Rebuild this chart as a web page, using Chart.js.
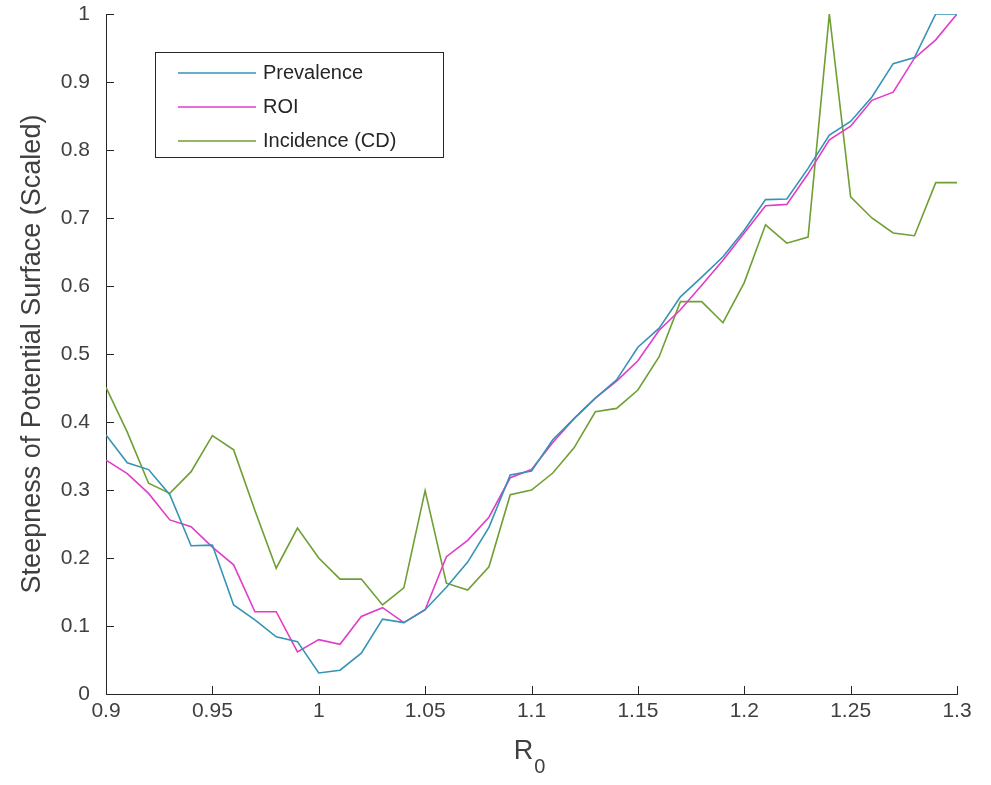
<!DOCTYPE html>
<html>
<head>
<meta charset="utf-8">
<script src="https://cdn.jsdelivr.net/npm/chart.js@4.4.1/dist/chart.umd.min.js"></script>
<style>
    html, body { margin: 0; padding: 0; background: #fff; }
    #wrap { width: 991px; height: 785px; position: relative; }
</style>
</head>
<body>
<div id="wrap"><canvas id="steepChart" width="991" height="785"></canvas></div>
<script>
const r0Values = [0.9, 0.91, 0.92, 0.93, 0.94, 0.95, 0.96, 0.97, 0.98, 0.99, 1.0,
    1.01, 1.02, 1.03, 1.04, 1.05, 1.06, 1.07, 1.08, 1.09, 1.1,
    1.11, 1.12, 1.13, 1.14, 1.15, 1.16, 1.17, 1.18, 1.19, 1.2,
    1.21, 1.22, 1.23, 1.24, 1.25, 1.26, 1.27, 1.28, 1.29, 1.3];

const prevalence = [0.381, 0.34, 0.33, 0.293, 0.218, 0.219, 0.131, 0.109, 0.084, 0.077, 0.031,
    0.035, 0.06, 0.11, 0.105, 0.124, 0.157, 0.194, 0.245, 0.322, 0.328,
    0.374, 0.405, 0.435, 0.462, 0.51, 0.538, 0.584, 0.613, 0.643, 0.682,
    0.727, 0.728, 0.773, 0.822, 0.842, 0.878, 0.927, 0.936, 1.0, 1.0];

const roi = [0.344, 0.324, 0.295, 0.256, 0.246, 0.216, 0.19, 0.121, 0.121, 0.062, 0.08,
    0.073, 0.114, 0.127, 0.105, 0.124, 0.202, 0.226, 0.26, 0.318, 0.33,
    0.37, 0.405, 0.435, 0.46, 0.49, 0.535, 0.565, 0.601, 0.638, 0.678,
    0.718, 0.72, 0.765, 0.815, 0.835, 0.873, 0.885, 0.935, 0.962, 1.0];

const incidence = [0.451, 0.385, 0.31, 0.295, 0.327, 0.38, 0.359, 0.27, 0.185, 0.244, 0.2,
    0.169, 0.169, 0.131, 0.156, 0.299, 0.163, 0.153, 0.187, 0.293, 0.3,
    0.325, 0.362, 0.415, 0.42, 0.447, 0.496, 0.577, 0.577, 0.546, 0.605,
    0.69, 0.663, 0.672, 1.0, 0.731, 0.7, 0.678, 0.674, 0.752, 0.752];

const xTicks = [0.9, 0.95, 1, 1.05, 1.1, 1.15, 1.2, 1.25, 1.3];
const yTicks = [0, 0.1, 0.2, 0.3, 0.4, 0.5, 0.6, 0.7, 0.8, 0.9, 1];

const seriesNames = ['Prevalence', 'ROI', 'Incidence (CD)'];
const seriesColors = ['#3593b5', '#e23cc8', '#6f9f33'];

const FONT = '"Liberation Sans", Arial, sans-serif';

function toPoints(ys) {
    return r0Values.map((x, i) => ({ x: x, y: ys[i] }));
}

function fmt(v) {
    return String(Math.round(v * 100) / 100);
}

// MATLAB style inward tick marks
const inwardTicks = {
    id: 'inwardTicks',
    afterDraw(chart) {
        const ctx = chart.ctx;
        const xs = chart.scales.x;
        const ys = chart.scales.y;
        const area = chart.chartArea;
        ctx.save();
        ctx.strokeStyle = '#262626';
        ctx.lineWidth = 1;
        ctx.beginPath();
        xTicks.forEach(v => {
            const px = Math.round(xs.getPixelForValue(v)) + 0.5;
            ctx.moveTo(px, area.bottom);
            ctx.lineTo(px, area.bottom - 8);
        });
        yTicks.forEach(v => {
            const py = Math.round(ys.getPixelForValue(v)) + 0.5;
            ctx.moveTo(area.left, py);
            ctx.lineTo(area.left + 8, py);
        });
        ctx.stroke();
        ctx.restore();
    }
};

// boxed legend inside the plot, top-left, plus the R0 axis label with a real subscript
const boxLegend = {
    id: 'boxLegend',
    afterDraw(chart) {
        const ctx = chart.ctx;
        const left = 155, top = 52, w = 288, h = 105;
        ctx.save();
        ctx.fillStyle = '#fff';
        ctx.fillRect(left, top, w, h);
        ctx.strokeStyle = '#262626';
        ctx.lineWidth = 1;
        ctx.strokeRect(left + 0.5, top + 0.5, w, h);
        ctx.font = '20px ' + FONT;
        ctx.textBaseline = 'middle';
        seriesNames.forEach((name, i) => {
            const y = top + 21 + i * 34;
            ctx.strokeStyle = seriesColors[i];
            ctx.lineWidth = 1.5;
            ctx.beginPath();
            ctx.moveTo(178, y);
            ctx.lineTo(256, y);
            ctx.stroke();
            ctx.fillStyle = '#262626';
            ctx.fillText(name, 263, y);
        });

        const area = chart.chartArea;
        const cx = (area.left + area.right) / 2;
        ctx.fillStyle = '#404040';
        ctx.textBaseline = 'alphabetic';
        ctx.font = '27px ' + FONT;
        const rw = ctx.measureText('R').width;
        ctx.fillText('R', cx - 8 - rw / 2, 759);
        ctx.font = '20px ' + FONT;
        ctx.fillText('0', cx - 8 + rw / 2 + 1, 773);
        ctx.restore();
    }
};

function createChart() {
    const ctx = document.getElementById('steepChart');
    new Chart(ctx, {
        type: 'line',
        data: {
            datasets: seriesNames.map((name, i) => ({
                label: name,
                data: toPoints([prevalence, roi, incidence][i]),
                borderColor: seriesColors[i],
                backgroundColor: seriesColors[i],
                borderWidth: 1.6,
                pointRadius: 0,
                tension: 0,
                fill: false
            }))
        },
        options: {
            responsive: false,
            animation: false,
            layout: { padding: { top: 14, right: 34, left: 0, bottom: 0 } },
            plugins: {
                legend: { display: false },
                tooltip: { enabled: false }
            },
            scales: {
                x: {
                    type: 'linear',
                    min: 0.9,
                    max: 1.3,
                    afterFit(scale) {
                        scale.height = 91;
                        scale.paddingLeft = 0;
                        scale.paddingRight = 0;
                    },
                    afterBuildTicks(scale) { scale.ticks = xTicks.map(v => ({ value: v })); },
                    grid: { display: false, drawTicks: false },
                    border: { display: true, color: '#262626', width: 1 },
                    ticks: {
                        color: '#404040',
                        padding: 5,
                        font: { size: 21, family: FONT },
                        callback: v => fmt(v),
                        maxRotation: 0
                    },
                    title: { display: false }
                },
                y: {
                    type: 'linear',
                    min: 0,
                    max: 1,
                    afterFit(scale) {
                        scale.width = 106;
                        scale.paddingTop = 0;
                        scale.paddingBottom = 0;
                    },
                    afterBuildTicks(scale) { scale.ticks = yTicks.map(v => ({ value: v })); },
                    grid: { display: false, drawTicks: false },
                    border: { display: true, color: '#262626', width: 1 },
                    ticks: {
                        color: '#404040',
                        padding: 16,
                        font: { size: 21, family: FONT, lineHeight: 1 },
                        callback: v => fmt(v)
                    },
                    title: {
                        display: true,
                        text: 'Steepness of Potential Surface (Scaled)',
                        color: '#404040',
                        font: { size: 27, family: FONT },
                        padding: { top: 16, bottom: 0 }
                    }
                }
            }
        },
        plugins: [inwardTicks, boxLegend]
    });
}

window.addEventListener('DOMContentLoaded', () => {
    createChart();
});
</script>
</body>
</html>
